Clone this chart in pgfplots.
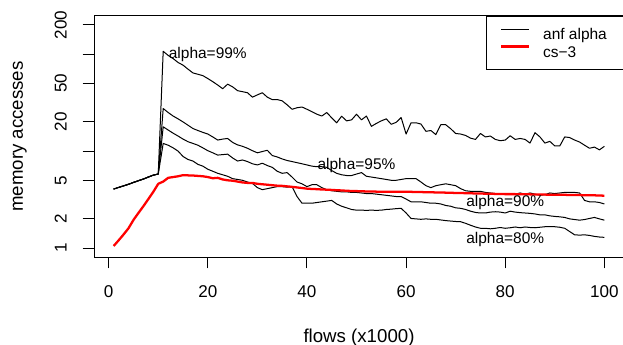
\documentclass[border=0pt]{standalone}
\usepackage{fontspec}
\setmainfont{Liberation Sans}
\usepackage{pgfplots}
\usepackage{pgfplotstable}
\pgfplotsset{compat=1.18}
\newcommand\tickfont{\fontsize{12.8}{15}\selectfont}
\newcommand\labfont{\fontsize{14}{16}\selectfont}
\newcommand\txtfont{\fontsize{11.6}{14}\selectfont}
\pgfplotstableread{
x a99 a95 a90 a80 cs
1 4.06 4.06 4.06 4.06 1.05
2 4.22 4.22 4.22 4.22 1.2
3 4.38 4.38 4.38 4.38 1.38
4 4.55 4.55 4.55 4.55 1.6
5 4.75 4.75 4.75 4.75 1.95
6 4.95 4.95 4.95 4.95 2.3
7 5.15 5.15 5.15 5.15 2.7
8 5.4 5.4 5.4 5.4 3.2
9 5.65 5.65 5.65 5.65 3.8
10 5.8 5.8 5.8 5.8 4.6
11 107 27.5 17.8 12.0 4.85
12 97 25 16.5 11.5 5.3
13 90 23 15.3 10.8 5.4
14 82 21.5 14.3 10.0 5.5
15 77 20 13.3 8.8 5.65
16 70 18.5 12.5 8.2 5.62
17 64 17.1 12.0 7.9 5.6
18 62 16.3 11.5 7.3 5.55
19 60 15.6 10.8 7.0 5.5
20 56 15.0 10.1 6.5 5.4
21 52 14.0 9.6 6.2 5.25
22 48 13.0 9.1 5.9 5.3
23 44 13.3 9.2 5.7 5.1
24 49 13.5 9.3 5.5 5.0
25 46 12.3 8.5 5.2 4.95
26 42 11.6 7.9 5.1 4.85
27 41 11.2 8.1 5.0 4.75
28 40 10.7 7.8 4.8 4.7
29 36 10.1 7.4 4.65 4.7
30 38 9.6 7.2 4.2 4.6
31 40 9.9 7.5 4.0 4.55
32 36 10.2 7.1 4.1 4.5
33 34 9.0 6.8 4.2 4.45
34 34 8.7 6.2 4.3 4.4
35 33 8.3 5.9 4.3 4.38
36 30 8.0 6.0 4.25 4.33
37 27 7.8 5.4 4.3 4.28
38 28 7.6 4.8 3.4 4.22
39 28.5 7.4 4.6 2.9 4.16
40 27 7.2 4.3 2.9 4.1
41 25.5 7.0 4.5 2.9 4.07
42 24 6.9 4.5 2.95 4.05
43 23 6.9 4.2 3.0 4.02
44 25 6.8 4.0 3.05 4.0
45 22 6.3 3.9 3.1 3.98
46 19.6 5.9 3.85 2.85 3.95
47 22.9 5.7 3.8 2.7 3.93
48 20.5 5.6 3.8 2.6 3.9
49 21 5.6 3.75 2.5 3.88
50 24 5.8 3.75 2.46 3.87
51 21 6.0 3.7 2.46 3.85
52 23 5.5 3.65 2.45 3.84
53 18 5.4 3.65 2.46 3.83
54 19.3 5.3 3.6 2.45 3.82
55 20.5 5.2 3.55 2.46 3.82
56 21.5 5.1 3.5 2.5 3.81
57 18.9 5.0 3.45 2.52 3.8
58 19.8 5.0 3.4 2.55 3.8
59 22.2 5.1 3.4 2.57 3.8
60 15 5.2 3.2 2.3 3.8
61 19.6 5.2 3.0 2.02 3.8
62 19.6 5.2 3.0 2.0 3.79
63 19 4.8 3.0 1.98 3.78
64 16 4.4 2.95 2.0 3.77
65 16.3 4.2 2.9 1.98 3.76
66 14.8 4.4 2.9 1.98 3.75
67 18.7 4.5 2.85 1.95 3.74
68 18.7 4.6 2.75 1.92 3.73
69 17 4.5 2.7 1.9 3.72
70 15.2 4.4 2.6 1.88 3.7
71 15 4.1 2.57 1.87 3.7
72 14.5 3.9 2.5 1.8 3.68
73 13.6 3.85 2.4 1.72 3.67
74 13.2 3.85 2.33 1.65 3.66
75 15.2 3.85 2.3 1.6 3.65
76 14 3.75 2.3 1.6 3.64
77 14.3 3.7 2.35 1.58 3.63
78 13.2 3.65 2.37 1.6 3.62
79 12.8 3.6 2.35 1.63 3.61
80 13 3.6 2.3 1.6 3.6
81 14.4 3.65 2.4 1.62 3.6
82 13.2 3.6 2.35 1.65 3.6
83 13.5 3.7 2.32 1.62 3.59
84 13.2 3.6 2.3 1.65 3.58
85 12.1 3.7 2.28 1.63 3.58
86 15.5 3.6 2.25 1.62 3.57
87 14 3.5 2.2 1.64 3.56
88 12.1 3.55 2.2 1.66 3.56
89 12.6 3.7 2.15 1.66 3.55
90 11.3 3.65 2.12 1.66 3.55
91 11.3 3.7 2.1 1.64 3.54
92 14 3.75 2.07 1.6 3.54
93 13.8 3.75 2.0 1.48 3.53
94 13 3.75 1.97 1.37 3.52
95 12.4 3.7 1.94 1.36 3.52
96 11.5 3.1 1.97 1.37 3.51
97 10.7 3.0 2.02 1.35 3.5
98 11 3.0 2.07 1.32 3.5
99 10.3 2.95 2.0 1.3 3.48
100 11.2 2.85 1.94 1.29 3.47
}\data
\begin{document}
\begin{tikzpicture}
\path[use as bounding box] (-70.5pt,-66pt) rectangle (396.75pt,192.75pt);
\begin{axis}[
  scale only axis,
  width=397.5pt, height=180.75pt,
  ymode=log, log basis y=10,
  xmin=-2.96, xmax=103.96,
  ymin=0.809, ymax=247.3,
  axis line style={line width=0.75pt},
  xtick={0,20,40,60,80,100},
  xticklabels={0,20,40,60,80,100},
  ytick={1,2,5,10,20,50,100,200},
  yticklabels={1,2,5,,20,50,,200},
  minor ytick={},
  tick align=outside,
  xtick pos=bottom, ytick pos=left,
  major tick length=8.5pt,
  tick style={line width=0.75pt, black},
  xticklabel style={font=\tickfont, inner sep=0pt, anchor=north, yshift=-12.5pt},
  yticklabel style={font=\tickfont, inner sep=0pt, anchor=south, xshift=-11.75pt, rotate=90},
  every axis x label/.style={at={(axis description cs:0.5,0)}, yshift=-63.75pt, anchor=base},
  every axis y label/.style={at={(axis description cs:0,0.5)}, xshift=-53.25pt, rotate=90, anchor=base},
  xlabel={\labfont flows (x1000)},
  ylabel={\labfont memory accesses},
  legend cell align=left,
  legend image code/.code={\path (0pt,0pt) (40.5pt,0pt); \draw[#1] (9.75pt,4pt) -- (30.75pt,4pt);},
  legend style={at={(rel axis cs:1,1)}, anchor=north east, draw=black, line width=0.75pt,
    inner xsep=0pt, inner ysep=7pt, row sep=0pt, column sep=0pt, font=\txtfont,
    nodes={inner sep=0pt, text height=10.5pt, text depth=2.45pt}},
  clip=false,
]
\addplot[black, line width=0.75pt, line join=round] table[x=x, y=a99] {\data};
\addlegendentry{anf alpha\hspace*{12.5pt}}
\addplot[black, line width=0.75pt, line join=round, forget plot] table[x=x, y=a95] {\data};
\addplot[black, line width=0.75pt, line join=round, forget plot] table[x=x, y=a90] {\data};
\addplot[black, line width=0.75pt, line join=round, forget plot] table[x=x, y=a80] {\data};
\addplot[red, line width=1.7pt, line join=round] table[x=x, y=cs] {\data};
\addlegendentry{cs−3}
\node[anchor=base, font=\txtfont, inner sep=0pt] at (axis cs:20,90) {alpha=99\%};
\node[anchor=base, font=\txtfont, inner sep=0pt] at (axis cs:50,6.52) {alpha=95\%};
\node[anchor=base, font=\txtfont, inner sep=0pt] at (axis cs:80,2.71) {alpha=90\%};
\node[anchor=base, font=\txtfont, inner sep=0pt] at (axis cs:80,1.12) {alpha=80\%};
\end{axis}
\end{tikzpicture}
\end{document}
